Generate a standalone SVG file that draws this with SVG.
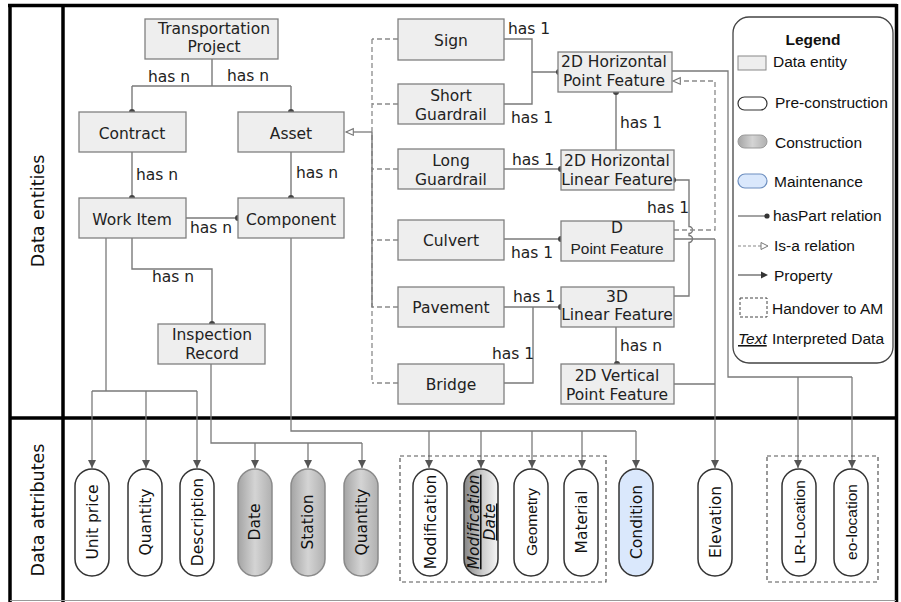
<svg xmlns="http://www.w3.org/2000/svg" width="901" height="602" viewBox="0 0 901 602">
  <defs>
    <style>
      .frame { fill: none; stroke: #000; stroke-width: 3.5; }
      .ent rect { fill: #eeeeee; stroke: #808080; stroke-width: 1.3; }
      .ent text, .lbl { font-family: "DejaVu Sans", sans-serif; font-size: 15.5px; fill: #222; }
      .ent text { text-anchor: middle; }
      .sec { font-family: "DejaVu Sans", sans-serif; font-size: 17.5px; fill: #111; text-anchor: middle; }
      .part { fill: none; stroke: #7a7a7a; stroke-width: 1.4; }
      .prop { fill: none; stroke: #7a7a7a; stroke-width: 1.3; }
      .isa { fill: none; stroke: #8a8a8a; stroke-width: 1.3; stroke-dasharray: 5 3; }
      .dot { fill: #444; }
      .pill rect { stroke: #333; stroke-width: 1.5; }
      .pill text { font-family: "DejaVu Sans", sans-serif; font-size: 15.5px; fill: #111; text-anchor: middle; }
      .pre rect { fill: #fff; }
      .con rect { fill: url(#gConstr); stroke: #8a8a8a; }
      .pill text.arial, .ent text.arial { font-family: "Liberation Sans", Arial, sans-serif; }
      .handover { fill: none; stroke: #555; stroke-width: 1.2; stroke-dasharray: 4 3; }
      .leg text { font-family: "Liberation Sans", Arial, sans-serif; font-size: 15.5px; fill: #111; }
    </style>
    <linearGradient id="gConstr" x1="0" y1="0" x2="1" y2="0">
      <stop offset="0" stop-color="#a4a4a4"/>
      <stop offset="0.5" stop-color="#d4d4d4"/>
      <stop offset="1" stop-color="#b0b0b0"/>
    </linearGradient>
    <linearGradient id="gModDate" x1="0" y1="0" x2="1" y2="0">
      <stop offset="0" stop-color="#858585"/>
      <stop offset="0.55" stop-color="#cdcdcd"/>
      <stop offset="1" stop-color="#f6f6f6"/>
    </linearGradient>
    <marker id="arrowProp" markerWidth="10" markerHeight="10" refX="8" refY="4" orient="auto" markerUnits="userSpaceOnUse">
      <path d="M0,0 L8,4 L0,8 z" fill="#555"/>
    </marker>
    <marker id="arrowIsa" markerWidth="12" markerHeight="12" refX="8" refY="4" orient="auto" markerUnits="userSpaceOnUse">
      <path d="M0.7,0.7 L8,4 L0.7,7.3 z" fill="#fff" stroke="#777" stroke-width="1.1"/>
    </marker>
  </defs>

  <rect width="901" height="602" fill="#fff"/>

  <!-- outer frame and section dividers -->
  <g id="frame">
    <line x1="8" y1="5.5" x2="897" y2="5.5" class="frame"/>
    <line x1="10" y1="4" x2="10" y2="602" class="frame"/>
    <line x1="63" y1="4" x2="63" y2="602" class="frame"/>
    <line x1="896.5" y1="4" x2="896.5" y2="602" class="frame"/>
    <line x1="9" y1="418" x2="897" y2="418" class="frame"/>
    <line x1="10" y1="600.5" x2="896" y2="600.5" stroke="#999" stroke-width="1"/>
    <text class="sec" transform="translate(44,211) rotate(-90)">Data entities</text>
    <text class="sec" transform="translate(44,510) rotate(-90)">Data attributes</text>
  </g>

  <!-- connectors -->
  <g id="connectors">
    <!-- hasPart relations -->
    <path class="part" d="M212,59 V86 M132,86 H291 M132,86 V112 M291,86 V112"/>
    <path class="part" d="M132,152 V198"/>
    <path class="part" d="M291,152 V198"/>
    <path class="part" d="M186,218 H238"/>
    <path class="part" d="M132,238 V269 H212 V324"/>
    <path class="part" d="M504,39 H532 V104 H504 M532,72 H558"/>
    <path class="part" d="M616,92 V150"/>
    <path class="part" d="M504,169 H561"/>
    <path class="part" d="M674,180 H689 V226.5 a3.5,3.5 0 0 1 0,7 V235.5 a3.5,3.5 0 0 1 0,7 V296 H674"/>
    <path class="part" d="M504,239 H561"/>
    <path class="part" d="M504,307 H561 M504,383 H533 V307"/>
    <path class="part" d="M616,327 V364"/>
    <circle class="dot" cx="132" cy="112" r="3"/>
    <circle class="dot" cx="291" cy="112" r="3"/>
    <circle class="dot" cx="132" cy="198" r="3"/>
    <circle class="dot" cx="291" cy="198" r="3"/>
    <circle class="dot" cx="238" cy="218" r="3"/>
    <circle class="dot" cx="212" cy="324" r="3"/>
    <circle class="dot" cx="559" cy="72" r="3"/>
    <circle class="dot" cx="616" cy="92" r="3"/>
    <circle class="dot" cx="561" cy="169" r="3"/>
    <circle class="dot" cx="673" cy="180" r="3"/>
    <circle class="dot" cx="561" cy="239" r="3"/>
    <circle class="dot" cx="561" cy="307" r="3"/>
    <circle class="dot" cx="617" cy="364" r="3"/>

    <!-- is-a relations -->
    <path class="isa" d="M372,39 V383 M398,39 H372 M398,104 H372 M398,169 H372 M398,240 H372 M398,307 H372 M398,383 H372"/>
    <path class="part" d="M372,132 V307"/>
    <path class="prop" d="M372,132 H346" marker-end="url(#arrowIsa)"/>
    <path class="isa" d="M674,230 H715 V81 H673" marker-end="url(#arrowIsa)"/>

    <!-- property links down to the attributes -->
    <path class="prop" d="M106,238 V391 M92,391 H197"/>
    <path class="prop" d="M92,391 V468" marker-end="url(#arrowProp)"/>
    <path class="prop" d="M146,391 V468" marker-end="url(#arrowProp)"/>
    <path class="prop" d="M197,391 V468" marker-end="url(#arrowProp)"/>
    <path class="prop" d="M211,364 V443 H362"/>
    <path class="prop" d="M255,443 V468" marker-end="url(#arrowProp)"/>
    <path class="prop" d="M308,443 V468" marker-end="url(#arrowProp)"/>
    <path class="prop" d="M362,443 V468" marker-end="url(#arrowProp)"/>
    <path class="prop" d="M291,238 V431 H636"/>
    <path class="prop" d="M429,431 V468" marker-end="url(#arrowProp)"/>
    <path class="prop" d="M481,431 V468" marker-end="url(#arrowProp)"/>
    <path class="prop" d="M532,431 V468" marker-end="url(#arrowProp)"/>
    <path class="prop" d="M582,431 V468" marker-end="url(#arrowProp)"/>
    <path class="prop" d="M636,431 V468" marker-end="url(#arrowProp)"/>
    <path class="prop" d="M674,239 H715 M674,384 H715"/>
    <path class="prop" d="M715,239 V468" marker-end="url(#arrowProp)"/>
    <path class="prop" d="M672,71 H728 V377 H852"/>
    <path class="prop" d="M798,377 V468" marker-end="url(#arrowProp)"/>
    <path class="prop" d="M852,377 V468" marker-end="url(#arrowProp)"/>

    <!-- relation labels -->
    <text class="lbl" x="148" y="82">has n</text>
    <text class="lbl" x="227" y="81">has n</text>
    <text class="lbl" x="136" y="180">has n</text>
    <text class="lbl" x="296" y="178">has n</text>
    <text class="lbl" x="190" y="233">has n</text>
    <text class="lbl" x="152" y="282">has n</text>
    <text class="lbl" x="508" y="34">has 1</text>
    <text class="lbl" x="511" y="123">has 1</text>
    <text class="lbl" x="620" y="128">has 1</text>
    <text class="lbl" x="512" y="165">has 1</text>
    <text class="lbl" x="647" y="213">has 1</text>
    <text class="lbl" x="511" y="258">has 1</text>
    <text class="lbl" x="513" y="302">has 1</text>
    <text class="lbl" x="492" y="359">has 1</text>
    <text class="lbl" x="620" y="351">has n</text>
  </g>

  <!-- data entities -->
  <g id="transportation-project" class="ent"><rect x="145" y="19" width="133" height="40"/><text x="214" y="34">Transportation</text><text x="214" y="52">Project</text></g>
  <g id="contract" class="ent"><rect x="79" y="112" width="107" height="40"/><text x="132" y="139">Contract</text></g>
  <g id="asset" class="ent"><rect x="238" y="112" width="106" height="40"/><text x="291" y="139">Asset</text></g>
  <g id="work-item" class="ent"><rect x="79" y="198" width="107" height="40"/><text x="132" y="225">Work Item</text></g>
  <g id="component" class="ent"><rect x="238" y="198" width="106" height="40"/><text x="291" y="225">Component</text></g>
  <g id="inspection-record" class="ent"><rect x="158" y="324" width="107" height="40"/><text x="212" y="340">Inspection</text><text x="212" y="359">Record</text></g>

  <g id="sign" class="ent"><rect x="398" y="19" width="106" height="41"/><text x="451" y="46">Sign</text></g>
  <g id="short-guardrail" class="ent"><rect x="398" y="84" width="106" height="40"/><text x="451" y="101">Short</text><text x="451" y="120">Guardrail</text></g>
  <g id="long-guardrail" class="ent"><rect x="398" y="149" width="106" height="40"/><text x="451" y="166">Long</text><text x="451" y="185">Guardrail</text></g>
  <g id="culvert" class="ent"><rect x="398" y="220" width="106" height="40"/><text x="451" y="246">Culvert</text></g>
  <g id="pavement" class="ent"><rect x="398" y="287" width="106" height="40"/><text x="451" y="313">Pavement</text></g>
  <g id="bridge" class="ent"><rect x="398" y="364" width="106" height="40"/><text x="451" y="390">Bridge</text></g>

  <g id="h-point-feature" class="ent"><rect x="558" y="52" width="114" height="40"/><text x="614" y="67">2D Horizontal</text><text x="614" y="86">Point Feature</text></g>
  <g id="h-linear-feature" class="ent"><rect x="561" y="150" width="113" height="40"/><text x="617" y="166">2D Horizontal</text><text x="617" y="185">Linear Feature</text></g>
  <g id="d-point-feature" class="ent"><rect x="561" y="221" width="113" height="40"/><text x="617" y="233">D</text><text x="617" y="254" class="arial" fill="#24304a">Point Feature</text></g>
  <g id="linear-feature-3d" class="ent"><rect x="561" y="287" width="113" height="40"/><text x="617" y="302">3D</text><text x="617" y="320">Linear Feature</text></g>
  <g id="v-point-feature" class="ent"><rect x="561" y="364" width="113" height="40"/><text x="617" y="381">2D Vertical</text><text x="617" y="400">Point Feature</text></g>

  <!-- handover groups -->
  <rect class="handover" x="400" y="456" width="206" height="126"/>
  <rect class="handover" x="767" y="456" width="111" height="126"/>

  <!-- data attributes -->
  <g id="attr-unit-price" class="pill pre"><rect x="75" y="469" width="34" height="107" rx="17"/><text transform="translate(92,522) rotate(-90)" y="5.5">Unit price</text></g>
  <g id="attr-quantity" class="pill pre"><rect x="128" y="469" width="34" height="107" rx="17"/><text transform="translate(145,522) rotate(-90)" y="5.5">Quantity</text></g>
  <g id="attr-description" class="pill pre"><rect x="180" y="469" width="34" height="107" rx="17"/><text transform="translate(197,522) rotate(-90)" y="5.5">Description</text></g>
  <g id="attr-date" class="pill con"><rect x="238" y="469" width="34" height="107" rx="17"/><text transform="translate(255,522) rotate(-90)" y="5" font-size="13.3">Date</text></g>
  <g id="attr-station" class="pill con"><rect x="291" y="469" width="34" height="107" rx="17"/><text transform="translate(308,522) rotate(-90)" y="5" font-size="13.3">Station</text></g>
  <g id="attr-quantity-built" class="pill con"><rect x="344" y="469" width="34" height="107" rx="17"/><text transform="translate(361,522) rotate(-90)" y="5.5">Quantity</text></g>
  <g id="attr-modification" class="pill pre"><rect x="413" y="469" width="34" height="107" rx="17"/><text transform="translate(430,522) rotate(-90)" y="5.5">Modification</text></g>
  <g id="attr-modification-date" class="pill"><rect x="464" y="469" width="34" height="107" rx="17" fill="url(#gModDate)" stroke="#888"/><text transform="translate(481,522) rotate(-90)" font-style="italic" text-decoration="underline"><tspan x="0" y="-2">Modification</tspan><tspan x="0" y="14">Date</tspan></text></g>
  <g id="attr-geometry" class="pill pre"><rect x="514" y="469" width="34" height="107" rx="17"/><text class="arial" transform="translate(531,522) rotate(-90)" y="5.5">Geometry</text></g>
  <g id="attr-material" class="pill pre"><rect x="564" y="469" width="34" height="107" rx="17"/><text transform="translate(581,522) rotate(-90)" y="5.5">Material</text></g>
  <g id="attr-condition" class="pill"><rect x="619" y="469" width="34" height="107" rx="17" fill="#dae8fc" stroke="#6c8ebf"/><text transform="translate(636,522) rotate(-90)" y="5.5">Condition</text></g>
  <g id="attr-elevation" class="pill pre"><rect x="698" y="469" width="34" height="107" rx="17"/><text transform="translate(715,522) rotate(-90)" y="5.5">Elevation</text></g>
  <g id="attr-lr-location" class="pill pre"><rect x="782" y="469" width="34" height="107" rx="17"/><text class="arial" transform="translate(799,522) rotate(-90)" y="5.5">LR-Location</text></g>
  <g id="attr-geo-location" class="pill pre"><rect x="834" y="469" width="34" height="107" rx="17"/><text class="arial" transform="translate(851,522) rotate(-90)" y="5.5">eo-location</text></g>

  <!-- legend -->
  <g id="legend" class="leg">
    <rect x="733" y="17" width="160" height="346" rx="16" fill="#fff" stroke="#444" stroke-width="1.3"/>
    <text x="813" y="45" text-anchor="middle" font-weight="bold">Legend</text>
    <rect x="738" y="56" width="28" height="14" fill="#eee" stroke="#888" stroke-width="1"/>
    <text x="773" y="67">Data entity</text>
    <rect x="738" y="97" width="29" height="13" rx="6.5" fill="#fff" stroke="#333" stroke-width="1.2"/>
    <text x="775" y="108">Pre-construction</text>
    <rect x="738" y="135" width="29" height="13" rx="6.5" fill="url(#gConstr)" stroke="#999" stroke-width="1"/>
    <text x="775" y="148">Construction</text>
    <rect x="738" y="174" width="29" height="14" rx="7" fill="#dae8fc" stroke="#6c8ebf" stroke-width="1.2"/>
    <text x="774" y="187">Maintenance</text>
    <line x1="738" y1="216" x2="767" y2="216" stroke="#666" stroke-width="1.2"/>
    <circle cx="767" cy="216" r="2.6" fill="#333"/>
    <text x="773" y="221">hasPart relation</text>
    <line x1="738" y1="246" x2="761" y2="246" stroke="#888" stroke-width="1.2" stroke-dasharray="3 2"/>
    <path d="M761,242.5 L768,246 L761,249.5 z" fill="#fff" stroke="#777" stroke-width="1"/>
    <text x="774" y="251">Is-a relation</text>
    <line x1="738" y1="275" x2="762" y2="275" stroke="#555" stroke-width="1.2"/>
    <path d="M761,271.5 L768,275 L761,278.5 z" fill="#333"/>
    <text x="774" y="281">Property</text>
    <rect x="740" y="298" width="27" height="19" fill="none" stroke="#444" stroke-width="1" stroke-dasharray="3 2"/>
    <text x="772" y="314">Handover to AM</text>
    <text x="738" y="344" font-style="italic" text-decoration="underline">Text</text>
    <text x="772" y="344">Interpreted Data</text>
  </g>
</svg>
